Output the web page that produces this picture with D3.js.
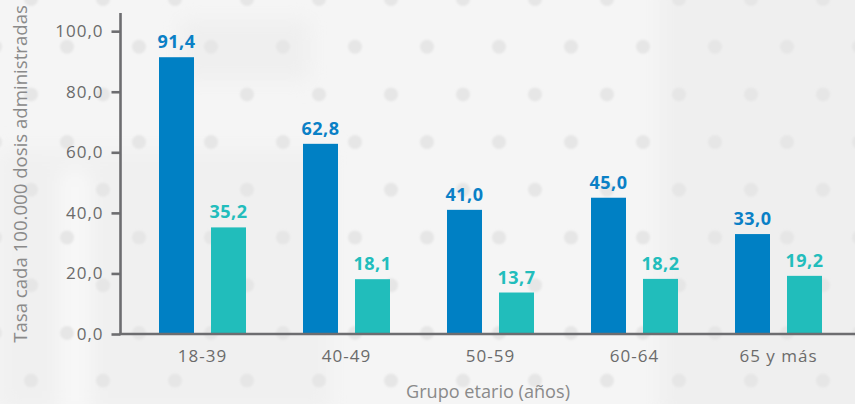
<!DOCTYPE html>
<html>
<head>
<meta charset="utf-8">
<script src="https://cdn.jsdelivr.net/npm/d3@7/dist/d3.min.js"></script>
<style>
  html, body { margin: 0; padding: 0; background: #f4f4f4; }
  svg { display: block; }
  text { font-family: "Open Sans", "Noto Sans", sans-serif; }
</style>
</head>
<body>
<svg id="chart" width="855" height="404"></svg>
<script>
// ---- data ----
const categories = ["18-39", "40-49", "50-59", "60-64", "65 y más"];
const seriesNames = ["serieA", "serieB"];
const serieA = [91.4, 62.8, 41.0, 45.0, 33.0];
const serieB = [35.2, 18.1, 13.7, 18.2, 19.2];
const yTicks = [0, 20, 40, 60, 80, 100];
const xTitle = "Grupo etario (años)";
const yTitle = "Tasa cada 100.000 dosis administradas";

const colors = { serieA: "#0080c4", serieB: "#21bdbb" };
const labelColors = { serieA: "#0a80c6", serieB: "#22bdbc" };

const W = 855, H = 404;
const svg = d3.select("#chart");

// ---- background ----
const defs = svg.append("defs");
defs.append("filter").attr("id", "blur").append("feGaussianBlur").attr("stdDeviation", 1.2);
defs.append("filter").attr("id", "bigblur").append("feGaussianBlur").attr("stdDeviation", 10);

svg.append("rect").attr("width", W).attr("height", H).attr("fill", "#f5f5f5");
const bgBlobs = svg.append("g").attr("filter", "url(#bigblur)");
bgBlobs.append("rect").attr("x", 660).attr("y", -20).attr("width", 220).attr("height", 440).attr("fill", "#efefef");
bgBlobs.append("rect").attr("x", 0).attr("y", 150).attr("width", 330).attr("height", 260).attr("fill", "#f0f0f0");
bgBlobs.append("rect").attr("x", 60).attr("y", 170).attr("width", 30).attr("height", 240).attr("fill", "#f8f8f8");
bgBlobs.append("rect").attr("x", 180).attr("y", 20).attr("width", 130).attr("height", 60).attr("fill", "#efefef");

const dotG = svg.append("g").attr("filter", "url(#blur)");
const dots = [];
for (let r = 0; r < 10; r++) {
  const yy = -1 + r * 47.7;
  const xs = (r % 2 === 0) ? 31 : -5;
  for (let c = 0; c < 14; c++) dots.push([xs + c * 72, yy]);
}
dotG.selectAll("circle").data(dots).join("circle")
  .attr("cx", d => d[0]).attr("cy", d => d[1]).attr("r", 7)
  .attr("fill", "#e6e6e6");

// ---- scales ----
const y = d3.scaleLinear().domain([0, 106]).range([334, 13]);
const x0 = d3.scaleBand().domain(categories).range([130.5, 850.5]).padding(0);
const x1 = d3.scaleBand().domain(seriesNames).range([28.5, 115.5]).paddingInner(17 / 52).paddingOuter(0);

const data = categories.map((c, i) => ({ cat: c, values: [
  { key: "serieA", v: serieA[i] }, { key: "serieB", v: serieB[i] }
]}));

// ---- bars ----
const groups = svg.append("g").selectAll("g").data(data).join("g")
  .attr("transform", d => `translate(${x0(d.cat)},0)`);
groups.selectAll("rect").data(d => d.values).join("rect")
  .attr("x", d => x1(d.key)).attr("width", x1.bandwidth())
  .attr("y", d => y(d.v)).attr("height", d => y(0) - y(d.v))
  .attr("fill", d => colors[d.key]);
groups.selectAll("text").data(d => d.values).join("text")
  .attr("x", d => x1(d.key) + x1.bandwidth() / 2)
  .attr("y", d => y(d.v) - 9)
  .attr("text-anchor", "middle")
  .attr("font-size", 18).attr("font-weight", 700)
  .attr("letter-spacing", 0.5)
  .attr("fill", d => labelColors[d.key])
  .text(d => d3.format(".1f")(d.v).replace(".", ","));

// ---- axes ----
const axisColor = "#6d6d70";
const yAxis = svg.append("g").attr("transform", "translate(120.5,0)")
  .call(d3.axisLeft(y).tickValues(yTicks).tickSize(9).tickPadding(8)
    .tickFormat(d => d3.format(".1f")(d).replace(".", ",")));
yAxis.select(".domain").attr("d", `M0,${y(0)}V13`).attr("stroke", axisColor).attr("stroke-width", 2.6);
yAxis.selectAll(".tick line").attr("stroke", axisColor).attr("stroke-width", 2.6);
yAxis.selectAll(".tick text").attr("fill", "#6b6b6b").attr("font-size", 17)
  .attr("letter-spacing", 1).attr("font-family", "'Open Sans', sans-serif");

const xAxis = svg.append("g").attr("transform", `translate(0,${y(0)})`)
  .call(d3.axisBottom(x0).tickSize(0).tickPadding(16));
xAxis.select(".domain").attr("d", `M119.2,0H${W}`).attr("stroke", axisColor).attr("stroke-width", 2.6);
xAxis.selectAll(".tick text").attr("fill", "#6b6b6b").attr("font-size", 17)
  .attr("letter-spacing", 1).attr("font-family", "'Open Sans', sans-serif");

// ---- titles ----
function fitFont(sel, target, start) {
  let fs = start;
  sel.attr("font-size", fs);
  const len = sel.node().getComputedTextLength();
  if (len > 0) { fs = start * target / len; sel.attr("font-size", Math.max(13, Math.min(20, fs))); }
}
const xt = svg.append("text").attr("x", 488).attr("y", 398).attr("text-anchor", "middle")
  .attr("fill", "#8a8a8a").text(xTitle);
fitFont(xt, 164, 16);
const yt = svg.append("text").attr("transform", "translate(27,174) rotate(-90)").attr("text-anchor", "middle")
  .attr("fill", "#8a8a8a").text(yTitle);
fitFont(yt, 338, 16);
</script>
</body>
</html>
